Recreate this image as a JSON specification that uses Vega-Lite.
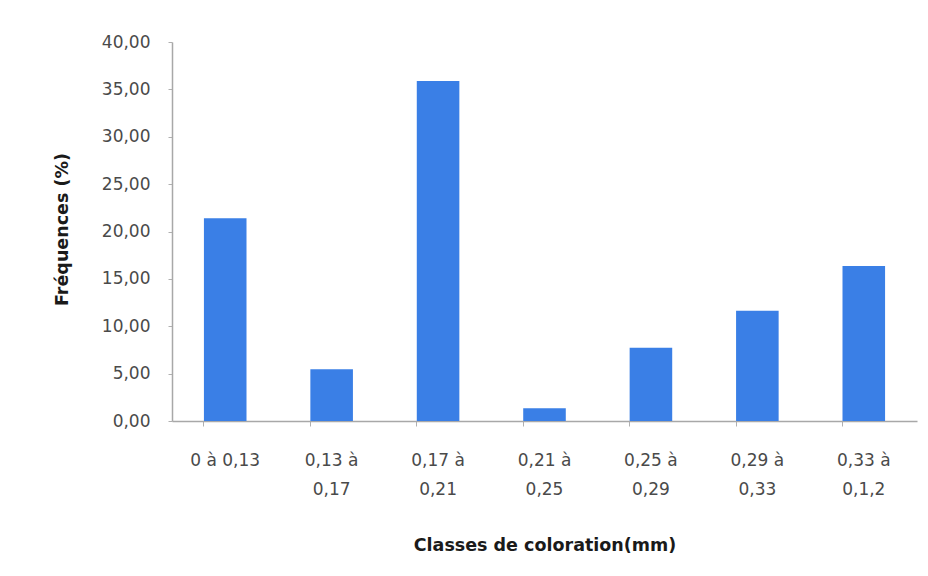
{
  "$schema": "https://vega.github.io/schema/vega-lite/v6.json",
  "width": 745,
  "height": 379,
  "autosize": {"type": "none"},
  "padding": {"left": 172, "top": 42, "right": 11, "bottom": 155},
  "background": "white",
  "config": {
    "view": {"stroke": null},
    "font": "DejaVu Sans"
  },
  "data": {
    "values": [
      {"classe": "0 à 0,13", "frequence": 21.4},
      {"classe": "0,13 à|0,17", "frequence": 5.45},
      {"classe": "0,17 à|0,21", "frequence": 35.88},
      {"classe": "0,21 à|0,25", "frequence": 1.34},
      {"classe": "0,25 à|0,29", "frequence": 7.74},
      {"classe": "0,29 à|0,33", "frequence": 11.64},
      {"classe": "0,33 à|0,1,2", "frequence": 16.36}
    ]
  },
  "mark": {"type": "bar", "color": "#3A7FE6"},
  "encoding": {
    "x": {
      "field": "classe",
      "type": "nominal",
      "sort": null,
      "scale": {"paddingInner": 0.6, "paddingOuter": 0.3},
      "axis": {
        "title": "Classes de coloration(mm)",
        "titleFont": "DejaVu Sans",
        "titleFontSize": 17.5,
        "titleFontWeight": "bold",
        "titleColor": "#1a1a1a",
        "titleBaseline": "middle",
        "titleY": 124,
        "labelAngle": 0,
        "labelExpr": "split(datum.value, '|')",
        "labelFont": "DejaVu Sans",
        "labelFontSize": 17,
        "labelColor": "#4a4a4a",
        "labelBaseline": "top",
        "labelPadding": 26,
        "labelLineHeight": 29,
        "bandPosition": 0,
        "tickSize": 5,
        "tickColor": "#b0b0b0",
        "domainColor": "#a8a8a8",
        "domainWidth": 1.5
      }
    },
    "y": {
      "field": "frequence",
      "type": "quantitative",
      "scale": {"domain": [0, 40]},
      "axis": {
        "title": "Fréquences (%)",
        "titleFont": "DejaVu Sans",
        "titleFontSize": 17.5,
        "titleFontWeight": "bold",
        "titleColor": "#1a1a1a",
        "titleX": -110,
        "titleY": 187,
        "titleAlign": "center",
        "titleBaseline": "middle",
        "values": [0, 5, 10, 15, 20, 25, 30, 35, 40],
        "labelExpr": "replace(format(datum.value, '.2f'), '.', ',')",
        "labelFont": "DejaVu Sans",
        "labelFontSize": 17,
        "labelColor": "#4a4a4a",
        "labelPadding": 18,
        "tickSize": 4,
        "tickColor": "#b0b0b0",
        "domainColor": "#a8a8a8",
        "domainWidth": 1.5,
        "grid": false
      }
    }
  }
}
